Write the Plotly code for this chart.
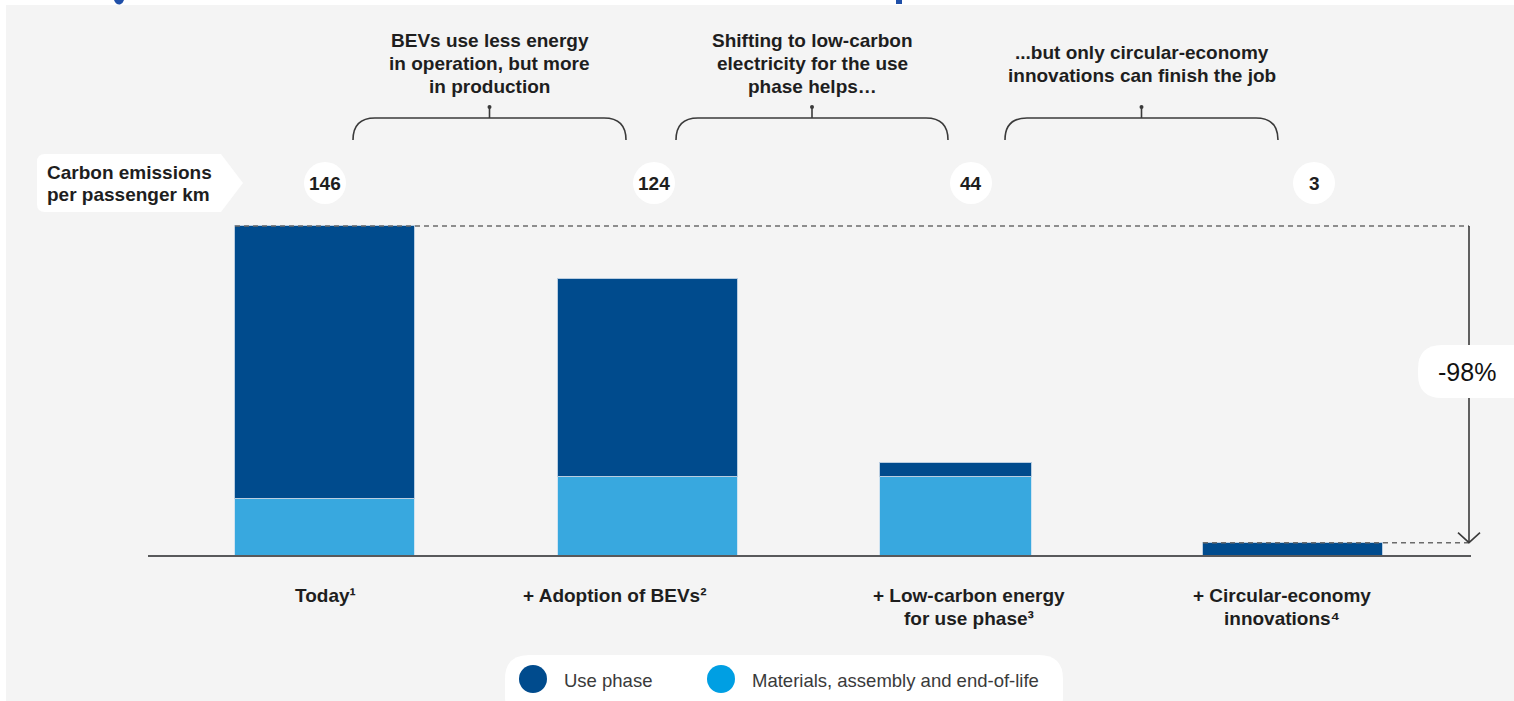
import plotly.graph_objects as go

# ---------------- data ----------------
categories = ["Today", "+ Adoption of BEVs", "+ Low-carbon energy for use phase", "+ Circular-economy innovations"]
tick_lines = [["Today¹"], ["+ Adoption of BEVs²"], ["+ Low-carbon energy", "for use phase³"], ["+ Circular-economy", "innovations⁴"]]
total_labels = ["146", "124", "44", "3"]
materials = [25.1, 35.0, 35.0, 0.0]
use_phase = [120.9, 87.6, 6.3, 5.9]
series_names = ["Use phase", "Materials, assembly and end-of-life"]
reduction_label = "-98%"
metric_label = ["Carbon emissions", "per passenger km"]
step_notes = [
    ["BEVs use less energy", "in operation, but more", "in production"],
    ["Shifting to low-carbon", "electricity for the use", "phase helps…"],
    ["...but only circular-economy", "innovations can finish the job"],
]

# ---------------- styling ----------------
W, H = 1514, 701
DARK = "#004b8d"
LIGHT = "#38a8df"
LEG_LIGHT = "#009fe3"
BG = "#f4f4f4"
TXT = "#1e1e1e"
LINE = "#3a3a3a"
FONT = "Liberation Sans, Arial, sans-serif"
FS = 19

def X(p):
    return p / W

def Y(p):
    return 1 - p / H

# x axis: bar slots 322.67 px apart, first center at pixel 325
slot = 322.67
x0px = 325.0
bar_w = 180 / slot
widths = [bar_w, bar_w, 152 / slot, bar_w]
offsets = [-bar_w / 2] * 4
xr = [(0 - x0px) / slot, (W - x0px) / slot]
# y axis: baseline at pixel 556, 2.26 px per unit
ppu = 2.26
base = 556.0
yr = [(base - H) / ppu, base / ppu]

xs = list(range(len(categories)))
totals = [m + u for m, u in zip(materials, use_phase)]

fig = go.Figure()
fig.add_trace(go.Bar(x=xs, y=materials, name=series_names[1], marker_color=LIGHT,
                     marker_line=dict(color="#cfe3f1", width=1), width=widths, offset=offsets,
                     showlegend=False))
fig.add_trace(go.Bar(x=xs, y=use_phase, name=series_names[0], marker_color=DARK,
                     marker_line=dict(color="#b9cde0", width=1), width=widths, offset=offsets,
                     showlegend=False))

shapes = []
ann = []

# gray panel
shapes.append(dict(type="rect", xref="paper", yref="paper", x0=X(6), x1=1, y0=0, y1=Y(5),
                   fillcolor=BG, line_width=0, layer="below"))
# fragments of the clipped title above
shapes.append(dict(type="path", xref="paper", yref="paper",
                   path=f"M {X(114)},{Y(0)} Q {X(116)},{Y(5)} {X(120)},{Y(4.5)} Q {X(123)},{Y(3.5)} {X(124)},{Y(0)} Z",
                   fillcolor="#1f4fa8", line_width=0))
shapes.append(dict(type="rect", xref="paper", yref="paper", x0=X(896), x1=X(902), y0=Y(4), y1=Y(0),
                   fillcolor="#1f4fa8", line_width=0))

# baseline
shapes.append(dict(type="line", xref="paper", yref="y", x0=X(148), x1=X(1471), y0=0, y1=0,
                   line=dict(color="#58595b", width=2)))

# dashed reference lines
xa = lambda i: i + offsets[i]
arrow_x_data = (1469 - x0px) / slot
shapes.append(dict(type="line", xref="x", yref="y", x0=xa(0), x1=arrow_x_data, y0=totals[0], y1=totals[0],
                   line=dict(color="#6b6b6b", width=1.5, dash="5px,4px")))
shapes.append(dict(type="line", xref="x", yref="y", x0=xa(3), x1=arrow_x_data, y0=totals[3], y1=totals[3],
                   line=dict(color="#6b6b6b", width=1.5, dash="5px,4px")))

# vertical arrow with gap for label
y_gap_top = (base - 345) / ppu
y_gap_bot = (base - 398) / ppu
shapes.append(dict(type="line", xref="x", yref="y", x0=arrow_x_data, x1=arrow_x_data, y0=totals[0], y1=y_gap_top,
                   line=dict(color=LINE, width=1.6)))
shapes.append(dict(type="line", xref="x", yref="y", x0=arrow_x_data, x1=arrow_x_data, y0=y_gap_bot, y1=totals[3],
                   line=dict(color=LINE, width=1.6)))
tip = base - totals[3] * ppu
shapes.append(dict(type="path", xref="paper", yref="paper",
                   path=f"M {X(1458)},{Y(tip-10)} L {X(1469)},{Y(tip)} L {X(1480)},{Y(tip-10)}",
                   line=dict(color=LINE, width=1.6)))

# -98% pill
def rrect(x0, y0, x1, y1, r):
    return (f"M {X(x0+r)},{Y(y0)} L {X(x1-r)},{Y(y0)} Q {X(x1)},{Y(y0)} {X(x1)},{Y(y0+r)} "
            f"L {X(x1)},{Y(y1-r)} Q {X(x1)},{Y(y1)} {X(x1-r)},{Y(y1)} L {X(x0+r)},{Y(y1)} "
            f"Q {X(x0)},{Y(y1)} {X(x0)},{Y(y1-r)} L {X(x0)},{Y(y0+r)} Q {X(x0)},{Y(y0)} {X(x0+r)},{Y(y0)} Z")

shapes.append(dict(type="path", xref="paper", yref="paper", path=rrect(1418, 345, 1540, 398, 24),
                   fillcolor="white", line_width=0))
ann.append(dict(x=X(1467), y=Y(372), xref="paper", yref="paper", text=reduction_label, showarrow=False,
                font=dict(size=25, color="#111111", family=FONT), xanchor="center", yanchor="middle"))

# metric label box (pentagon)
shapes.append(dict(type="path", xref="paper", yref="paper",
                   path=(f"M {X(45)},{Y(154)} L {X(221)},{Y(154)} L {X(243)},{Y(183)} L {X(221)},{Y(212)} "
                         f"L {X(45)},{Y(212)} Q {X(37)},{Y(212)} {X(37)},{Y(204)} L {X(37)},{Y(162)} "
                         f"Q {X(37)},{Y(154)} {X(45)},{Y(154)} Z"),
                   fillcolor="white", line_width=0))
for k, line in enumerate(metric_label):
    ann.append(dict(x=X(45), y=Y(172 + 23 * k), xref="paper", yref="paper", text=f"<b>{line}</b>",
                    showarrow=False, font=dict(size=FS, color=TXT, family=FONT),
                    xanchor="left", yanchor="middle"))

# total value circles
circle_px = [325, 654, 971, 1314]
for cx, lab in zip(circle_px, total_labels):
    shapes.append(dict(type="circle", xref="paper", yref="paper", x0=X(cx - 21), x1=X(cx + 21),
                       y0=Y(183 + 21), y1=Y(183 - 21), fillcolor="white", line_width=0))
    ann.append(dict(x=X(cx), y=Y(183), xref="paper", yref="paper", text=f"<b>{lab}</b>", showarrow=False,
                    font=dict(size=FS, color=TXT, family=FONT), xanchor="center", yanchor="middle"))

# brackets + notes
brackets = [(353, 626), (676, 948), (1005, 1278)]
note_tops = [40, 40, 52]
for (bx0, bx1), lines, ty in zip(brackets, step_notes, note_tops):
    cx = (bx0 + bx1) / 2
    r = 22
    shapes.append(dict(type="path", xref="paper", yref="paper",
                       path=(f"M {X(bx0)},{Y(140)} Q {X(bx0)},{Y(118)} {X(bx0+r)},{Y(118)} "
                             f"L {X(bx1-r)},{Y(118)} Q {X(bx1)},{Y(118)} {X(bx1)},{Y(140)}"),
                       line=dict(color=LINE, width=1.6)))
    shapes.append(dict(type="line", xref="paper", yref="paper", x0=X(cx), x1=X(cx), y0=Y(118), y1=Y(107),
                       line=dict(color=LINE, width=1.6)))
    shapes.append(dict(type="circle", xref="paper", yref="paper", x0=X(cx - 2), x1=X(cx + 2),
                       y0=Y(109), y1=Y(105), fillcolor=LINE, line_width=0))
    for k, line in enumerate(lines):
        ann.append(dict(x=X(cx), y=Y(ty + 23.3 * k), xref="paper", yref="paper", text=f"<b>{line}</b>",
                        showarrow=False, font=dict(size=FS, color=TXT, family=FONT),
                        xanchor="center", yanchor="middle"))

# category labels
label_px = [325, 614, 969, 1282]
for lx, lines in zip(label_px, tick_lines):
    for k, line in enumerate(lines):
        ann.append(dict(x=X(lx), y=Y(595 + 23.5 * k), xref="paper", yref="paper", text=f"<b>{line}</b>",
                        showarrow=False, font=dict(size=FS, color=TXT, family=FONT),
                        xanchor="center", yanchor="middle"))

# legend pill
shapes.append(dict(type="path", xref="paper", yref="paper", path=rrect(505, 655, 1063, 720, 24),
                   fillcolor="white", line_width=0))
for cx, col in [(533, DARK), (721, LEG_LIGHT)]:
    shapes.append(dict(type="circle", xref="paper", yref="paper", x0=X(cx - 14), x1=X(cx + 14),
                       y0=Y(679 + 14), y1=Y(679 - 14), fillcolor=col, line_width=0))
for tx, name in [(562, series_names[0]), (750, series_names[1])]:
    ann.append(dict(x=X(tx), y=Y(680), xref="paper", yref="paper", text=name, showarrow=False,
                    font=dict(size=18.5, color="#3a3a3a", family=FONT), xanchor="left", yanchor="middle"))

fig.update_layout(
    width=W, height=H, autosize=False,
    margin=dict(l=0, r=0, t=0, b=0, pad=0),
    paper_bgcolor="white", plot_bgcolor="rgba(0,0,0,0)",
    barmode="stack", bargap=0,
    xaxis=dict(range=xr, visible=False, fixedrange=True),
    yaxis=dict(range=yr, visible=False, fixedrange=True),
    shapes=shapes, annotations=ann, showlegend=False,
    font=dict(family=FONT),
)

fig.write_html("out.html", config={"displayModeBar": False})
